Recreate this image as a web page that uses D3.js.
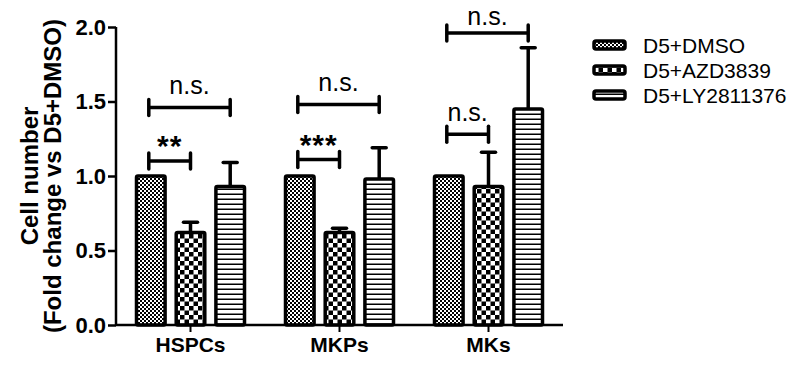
<!DOCTYPE html>
<html>
<head>
<meta charset="UTF-8">
<script src="https://d3js.org/d3.v7.min.js"></script>
<style>
  body { margin: 0; background: #fff; }
  svg { font-family: Arial, "Liberation Sans", sans-serif; }
</style>
</head>
<body>
<svg width="798" height="365"></svg>
<script>
  // data
  const groups = ["HSPCs", "MKPs", "MKs"];
  const series = ["D5+DMSO", "D5+AZD3839", "D5+LY2811376"];
  const means = [
    [1.0, 0.62, 0.93],
    [1.0, 0.62, 0.98],
    [1.0, 0.93, 1.45]
  ];
  const errs = [
    [0, 0.07, 0.16],
    [0, 0.03, 0.21],
    [0, 0.23, 0.41]
  ];
  const yTicks = [0, 0.5, 1.0, 1.5, 2.0];
  // significance brackets: group, from series, to series, level, label
  const sigs = [
    { g: 0, a: 0, b: 1, y: 1.10, label: "**" },
    { g: 0, a: 0, b: 2, y: 1.46, label: "n.s." },
    { g: 1, a: 0, b: 1, y: 1.11, label: "***" },
    { g: 1, a: 0, b: 2, y: 1.48, label: "n.s." },
    { g: 2, a: 0, b: 1, y: 1.28, label: "n.s." },
    { g: 2, a: 0, b: 2, y: 1.96, label: "n.s." }
  ];

  const svg = d3.select("svg");
  const axisX = 116, axisRight = 563, plotTop = 27, base = 325;

  const y = d3.scaleLinear().domain([0, 2]).range([base, plotTop]);
  const x0 = d3.scaleBand().domain(groups).range([axisX, axisRight]);
  const x1 = d3.scaleBand().domain(series).range([-54, 54]).paddingInner(0.28);

  // patterns
  const defs = svg.append("defs");
  const p1 = defs.append("pattern").attr("id", "pat0").attr("patternUnits", "userSpaceOnUse")
    .attr("width", 4).attr("height", 4);
  p1.append("rect").attr("width", 4).attr("height", 4).attr("fill", "#fff");
  p1.append("rect").attr("width", 2).attr("height", 2).attr("fill", "#000");
  p1.append("rect").attr("x", 2).attr("y", 2).attr("width", 2).attr("height", 2).attr("fill", "#000");

  const p2 = defs.append("pattern").attr("id", "pat1").attr("patternUnits", "userSpaceOnUse")
    .attr("width", 9).attr("height", 9);
  p2.append("rect").attr("width", 9).attr("height", 9).attr("fill", "#fff");
  p2.append("rect").attr("width", 4.5).attr("height", 4.5).attr("fill", "#000");
  p2.append("rect").attr("x", 4.5).attr("y", 4.5).attr("width", 4.5).attr("height", 4.5).attr("fill", "#000");

  const p3 = defs.append("pattern").attr("id", "pat2").attr("patternUnits", "userSpaceOnUse")
    .attr("width", 5).attr("height", 5);
  p3.append("rect").attr("width", 5).attr("height", 5).attr("fill", "#fff");
  p3.append("rect").attr("y", 3.5).attr("width", 5).attr("height", 1.5).attr("fill", "#000");

  const cx = (g, s) => x0(groups[g]) + x0.bandwidth() / 2 + x1(series[s]) + x1.bandwidth() / 2;

  // bars
  const gBars = svg.append("g");
  groups.forEach((grp, gi) => {
    series.forEach((s, si) => {
      const v = means[gi][si];
      gBars.append("rect")
        .attr("x", cx(gi, si) - x1.bandwidth() / 2)
        .attr("y", y(v))
        .attr("width", x1.bandwidth())
        .attr("height", base - y(v))
        .attr("fill", `url(#pat${si})`)
        .attr("stroke", "#000")
        .attr("stroke-width", 3.5)
        .attr("rx", 1.5);
      if (errs[gi][si] > 0) {
        const yt = y(v + errs[gi][si]);
        gBars.append("line")
          .attr("x1", cx(gi, si)).attr("x2", cx(gi, si))
          .attr("y1", y(v)).attr("y2", yt)
          .attr("stroke", "#000").attr("stroke-width", 3.5);
        gBars.append("line")
          .attr("x1", cx(gi, si) - 7).attr("x2", cx(gi, si) + 7)
          .attr("y1", yt).attr("y2", yt)
          .attr("stroke", "#000").attr("stroke-width", 3.5).attr("stroke-linecap", "round");
      }
    });
  });

  // axes
  const yAxis = svg.append("g").attr("transform", `translate(${axisX},0)`)
    .call(d3.axisLeft(y).tickValues(yTicks).tickFormat(d3.format(".1f")).tickSize(8).tickPadding(2));
  yAxis.select(".domain").attr("stroke-width", 2.5).attr("d", `M0,${plotTop}V${base}`);
  yAxis.selectAll(".tick line").attr("stroke-width", 2.5);
  yAxis.selectAll(".tick text").attr("font-size", 22).attr("font-weight", "bold")
    .attr("font-family", "Arial, 'Liberation Sans', sans-serif").attr("fill", "#000");

  const xAxis = svg.append("g").attr("transform", `translate(0,${base})`)
    .call(d3.axisBottom(x0).tickSize(7).tickPadding(5));
  xAxis.select(".domain").attr("stroke-width", 2.5).attr("d", `M${axisX},0H${axisRight}`);
  xAxis.selectAll(".tick line").attr("stroke-width", 2);
  xAxis.selectAll(".tick text").attr("font-size", 21).attr("font-weight", "bold")
    .attr("font-family", "Arial, 'Liberation Sans', sans-serif").attr("fill", "#000");

  // y title
  const yt = svg.append("g").attr("transform", `translate(0,${(plotTop + base) / 2}) rotate(-90)`);
  yt.append("text").attr("x", 0).attr("y", 38).attr("text-anchor", "middle")
    .attr("font-size", 24).attr("font-weight", "bold").text("Cell number");
  yt.append("text").attr("x", 0).attr("y", 61).attr("text-anchor", "middle")
    .attr("font-size", 24).attr("font-weight", "bold").text("(Fold change vs D5+DMSO)");

  // significance brackets
  const gs = svg.append("g");
  sigs.forEach(d => {
    const xa = cx(d.g, d.a) - 2, xb = cx(d.g, d.b), yy = y(d.y);
    gs.append("line").attr("x1", xa).attr("x2", xb).attr("y1", yy).attr("y2", yy)
      .attr("stroke", "#000").attr("stroke-width", 3.5);
    [xa, xb].forEach(xx => gs.append("line").attr("x1", xx).attr("x2", xx)
      .attr("y1", yy - 8).attr("y2", yy + 8)
      .attr("stroke", "#000").attr("stroke-width", 3.5).attr("stroke-linecap", "round"));
    const star = d.label !== "n.s.";
    gs.append("text").attr("x", (xa + xb) / 2)
      .attr("y", star ? yy - 5 : Math.max(yy - 13, 25))
      .attr("text-anchor", "middle")
      .attr("font-size", star ? 30 : 25)
      .attr("font-weight", star ? "bold" : "normal")
      .attr("letter-spacing", star ? 1 : 0)
      .text(d.label);
  });

  // legend
  const lg = svg.append("g");
  series.forEach((s, i) => {
    const ly = 45 + i * 25;
    lg.append("rect").attr("x", 594).attr("y", ly - 4).attr("width", 31).attr("height", 8)
      .attr("fill", `url(#pat${i})`).attr("stroke", "#000").attr("stroke-width", 3.5).attr("rx", 2);
    lg.append("text").attr("x", 643).attr("y", ly + 7.5).attr("font-size", 21).text(s);
  });
</script>
</body>
</html>
